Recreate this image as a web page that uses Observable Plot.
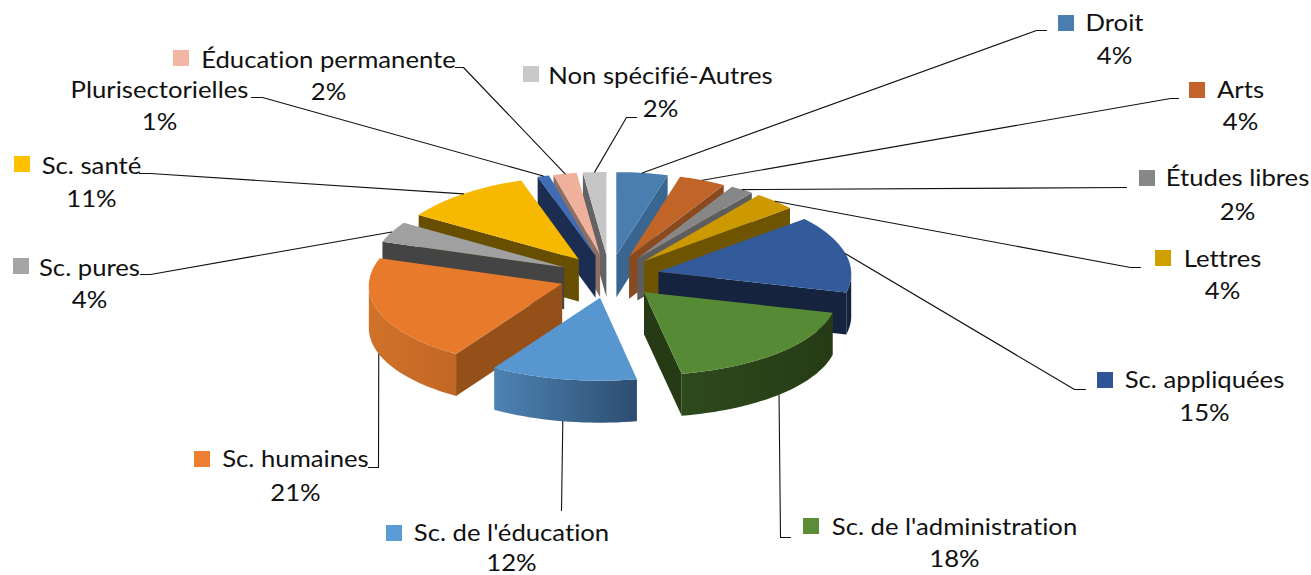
<!DOCTYPE html>
<html>
<head>
<meta charset="utf-8">
<script src="https://cdn.jsdelivr.net/npm/d3@7"></script>
<script src="https://cdn.jsdelivr.net/npm/@observablehq/plot@0.6"></script>
<style>html,body{margin:0;padding:0;background:#fff}svg{display:block}text{font-variant-ligatures:none}</style>
</head>
<body>
<div id="chart"></div>
<script>
// ---- chart values (clockwise from 12 o'clock); labels show them rounded
const categories = ["Droit","Arts","Études libres","Lettres","Sc. appliquées","Sc. de l'administration","Sc. de l'éducation","Sc. humaines","Sc. pures","Sc. santé","Plurisectorielles","Éducation permanente","Non spécifié-Autres"];
const values = [4.4,4,2,3.6,15,18,12,21,4,11,1,2,2];

// ---- colours
const topColors    = ["#4a7eb0","#c06427","#878787","#cc9a00","#335a9a","#578a35","#5896d0","#e87a2c","#a0a0a0","#f6b900","#3f6cb5","#efb09c","#c6c6c6"];
const radialColors = ["#386690","#8a4a1f","#5d5d5d","#6e5400","#15233f","#263b15","#2f4f72","#955019","#444444","#674e00","#1b2e52","#8f6f62","#636363"];
const arcLeft      = ["#386690","#8a4a1f","#5d5d5d","#6e5400","#15233f","#2e4a1c","#4d83b3","#d1722a","#444444","#674e00","#1b2e52","#8f6f62","#636363"];
const arcRight     = ["#386690","#8a4a1f","#5d5d5d","#6e5400","#15233f","#263b15","#2d4d70","#c26726","#444444","#674e00","#1b2e52","#8f6f62","#636363"];
const swatchColors = ["#4a7eb0","#c4622b","#878787","#d0a000","#2f5597","#5b8c37","#5b9bd5","#ed7d31","#a5a5a5","#ffc000",null,"#f4b6a4","#c9c9c9"];

// ---- label layout
const nameX  = [1114,1240,1237,1222,1204,954,511,295,89,91,159,328,660];
const nameY  = [23,90,178,259,380,527,533,459,268,166,90,60,76];
const pctY   = [56,122,212,291,413,559,563,493,300,199,122,92,109];
const swatchX= [1058,1189,1139,1155,1097,803,386,194,13,14,null,173,523];
const swatchY= [15,82,170,250,372,518,525,451,258,156,null,50,66];
const stubX  = [1046,1178,1126,1140,1085,790,561,368,140,139,251,455,636];
const elbowX = [1036,1170,1126,1130,1074,780,561,378,150,150,262,463,626];
const elbowY = [30,98,187,267,389,537,510,467,274,173,97,67,117];

// ---- pie geometry
const cx = 609, cy = 276, rx = 193, ry = 83, depth = 42, explode = 0.26, persp = 0.02;
const swatchSize = 16, fontSize = 24, textStretch = 1.07, fontFamily = "Lato, 'Noto Sans', sans-serif";
const rad = d => d * Math.PI / 180;
const total = d3.sum(values);
const cum = d3.cumsum(values);

const project = (X, Y) => [cx + rx * X * (1 + persp * Y), cy + ry * Y];
const wedges = values.map((v, i) => {
  const a0 = (cum[i] - v) / total * 360, a1 = cum[i] / total * 360, mid = (a0 + a1) / 2;
  const ox = explode * Math.sin(rad(mid)), oy = -explode * Math.cos(rad(mid));
  const at = a => project(ox + Math.sin(rad(a)), oy - Math.cos(rad(a)));
  return {i, a0, a1, mid, apex: project(ox, oy), at};
});

const polys = [];
const gradients = [];
let key = 0;
const push = (pts, color) => { key++; pts.forEach(p => polys.push({x: p[0], y: p[1], key, color})); };
const down = p => [p[0], p[1] + depth];

[...wedges].sort((a, b) => a.apex[1] - b.apex[1]).forEach(w => {
  const apex = w.apex;
  // radial faces turned to the viewer
  if (-Math.cos(rad(w.a0 - 90)) > 0.001) {
    const o = w.at(w.a0);
    push([apex, o, down(o), down(apex)], radialColors[w.i]);
  }
  if (-Math.cos(rad(w.a1 + 90)) > 0.001) {
    const o = w.at(w.a1);
    push([apex, o, down(o), down(apex)], radialColors[w.i]);
  }
  // outer wall, shaded left to right
  const s0 = Math.max(w.a0, 90), s1 = Math.min(w.a1, 270);
  if (s1 > s0) {
    const n = Math.ceil((s1 - s0) / 2);
    const rim = d3.range(n + 1).map(k => w.at(s0 + (s1 - s0) * k / n));
    gradients.push({id: "wall" + w.i, left: arcLeft[w.i], right: arcRight[w.i]});
    push([...rim, ...rim.map(down).reverse()], `url(#wall${w.i})`);
  }
  // top face
  const top = [apex];
  const n = Math.max(2, Math.ceil((w.a1 - w.a0) / 2));
  for (let k = 0; k <= n; k++) top.push(w.at(w.a0 + (w.a1 - w.a0) * k / n));
  push(top, topColors[w.i]);
});

// leader lines: label stub -> elbow -> middle of the wedge's rim
const leaders = [];
wedges.forEach(w => {
  const rim = w.at(w.mid);
  const end = (w.mid > 90 && w.mid < 270) ? down(rim) : rim;
  [[stubX[w.i], elbowY[w.i]], [elbowX[w.i], elbowY[w.i]], end].forEach(p => leaders.push({x: p[0], y: p[1], i: w.i}));
});

const names = categories.map((c, i) => ({c, x: nameX[i], y: nameY[i]}));
const pcts = values.map((v, i) => ({t: Math.round(v) + "%", x: nameX[i], y: pctY[i]}));
const swatches = categories.map((c, i) => ({x: swatchX[i], y: swatchY[i], color: swatchColors[i]})).filter(d => d.color);

const textOpts = {x: "x", y: "y", fontSize, fontFamily, fill: "#111", textAnchor: "middle", lineAnchor: "middle"};

const gradientDefs = () => {
  const defs = d3.create("svg:defs");
  gradients.forEach(g => {
    const lg = defs.append("linearGradient").attr("id", g.id).attr("x1", 0).attr("x2", 1).attr("y1", 0).attr("y2", 0);
    lg.append("stop").attr("offset", 0).attr("stop-color", g.left);
    lg.append("stop").attr("offset", 1).attr("stop-color", g.right);
  });
  return defs.node();
};

const chart = Plot.plot({
  width: 1311, height: 575, margin: 0,
  x: {domain: [0, 1311], range: [0, 1311], axis: null},
  y: {domain: [0, 575], range: [0, 575], axis: null},
  color: {type: "identity"},
  marks: [
    gradientDefs,
    Plot.line(polys, {x: "x", y: "y", z: "key", fill: "color", stroke: "none", curve: "linear-closed"}),
    Plot.line(leaders, {x: "x", y: "y", z: "i", stroke: "#111", strokeWidth: 1.1, curve: "linear"}),
    Plot.rect(swatches, {x1: "x", x2: d => d.x + swatchSize, y1: "y", y2: d => d.y + swatchSize, fill: "color"}),
    Plot.text(names, {...textOpts, text: "c"}),
    Plot.text(pcts, {...textOpts, text: "t"})
  ]
});
document.getElementById("chart").append(chart);
// the reference's lettering is slightly stretched horizontally
chart.querySelectorAll("text").forEach(t => {
  const len = t.getComputedTextLength();
  if (len > 0) {
    t.setAttribute("textLength", (len * textStretch).toFixed(1));
    t.setAttribute("lengthAdjust", "spacingAndGlyphs");
  }
});
</script>
</body>
</html>
